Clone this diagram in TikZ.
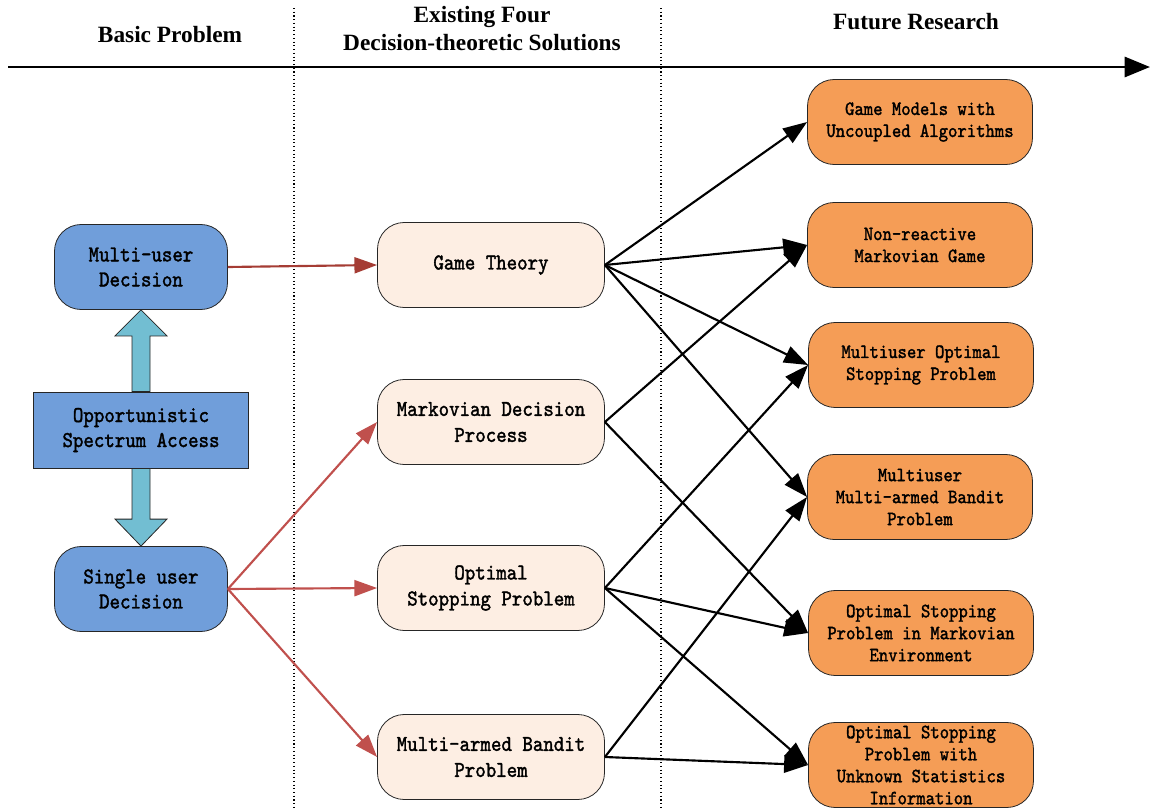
\documentclass[tikz,border=0pt]{standalone}
\usepackage{fontspec}
\usetikzlibrary{arrows.meta,calc}
\newfontfamily\boxfont[Extension=.otf,FakeStretch=0.88,FakeBold=1.6]{lmmono10-regular}
\newfontfamily\headfont{Liberation Serif}
\definecolor{bluebox}{RGB}{112,158,218}
\definecolor{cyanarr}{RGB}{114,190,210}
\definecolor{peach}{RGB}{253,238,227}
\definecolor{orangebox}{RGB}{245,157,86}
\definecolor{redarr}{RGB}{192,80,77}
\definecolor{darkred}{RGB}{165,60,52}
\begin{document}
\begin{tikzpicture}[x=0.75pt,y=-0.75pt,
  box/.style={draw=black!85, line width=0.6pt, rounded corners=20pt, align=center, inner sep=0pt},
  leftbox/.style={box, fill=bluebox, minimum width=129.75pt, minimum height=63.75pt,
    font=\boxfont\fontsize{17}{18.75}\selectfont},
  midbox/.style={box, fill=peach, minimum width=170.25pt, minimum height=63.75pt,
    font=\boxfont\fontsize{17}{19.5}\selectfont},
  rightbox/.style={box, fill=orangebox, minimum width=168.75pt, minimum height=63.75pt,
    font=\boxfont\fontsize{15.2}{16.5}\selectfont},
  headtext/.style={font=\headfont\bfseries\fontsize{17.5}{21}\selectfont, align=center, inner sep=0pt},
  redline/.style={draw=redarr, line width=1.6pt, -{Triangle[length=17pt,width=12pt]}},
  blackline/.style={draw=black, line width=1.6pt, -{Triangle[length=18pt,width=13pt]}},
  fatarrow/.style={fill=cyanarr, draw=black!85, line width=0.6pt},
  sep/.style={dotted, line width=0.8pt}
]
\useasboundingbox (0,0) rectangle (1150,810);

% headers
\node[headtext] (h1) at (170,35) {Basic Problem};
\node[headtext] (h2) at (482,29) {Existing Four\\Decision-theoretic Solutions};
\node[headtext] (h3) at (916,22) {Future Research};

% timeline
\coordinate (t0) at (8,67);
\coordinate (t1) at (1150,67);
\draw[line width=2.2pt, -{Triangle[length=19pt,width=15pt]}] (t0) -- (t1);

% separators
\coordinate (s1a) at (294,8); \coordinate (s1b) at (294,810);
\coordinate (s2a) at (661,8); \coordinate (s2b) at (661,810);
\draw[sep] (s1a) -- (s1b);
\draw[sep] (s2a) -- (s2b);

% left column
\node[leftbox] (mu) at (141,267) {Multi-user\\Decision};
\node[draw=black!85, line width=0.6pt, fill=bluebox, minimum width=161.25pt, minimum height=57pt,
  inner sep=0pt, align=center, font=\boxfont\fontsize{17}{18.75}\selectfont] (osa) at (141,430)
  {Opportunistic\\Spectrum Access};
\node[leftbox] (su) at (141,589) {Single user\\Decision};

% middle column
\node[midbox] (gt) at (491,265) {Game Theory};
\node[midbox] (mdp) at (491,422) {Markovian Decision\\Process};
\node[midbox] (osp) at (491,588) {Optimal\\Stopping Problem};
\node[midbox] (mab) at (491,757) {Multi-armed Bandit\\Problem};

% right column
\node[rightbox] (gm) at (920,122) {Game Models with\\Uncoupled Algorithms};
\node[rightbox] (nr) at (920,245) {Non-reactive\\Markovian Game};
\node[rightbox] (mosp) at (921,365) {Multiuser Optimal\\Stopping Problem};
\node[rightbox] (mmab) at (920,497) {Multiuser\\Multi-armed Bandit\\Problem};
\node[rightbox] (ospm) at (921,633) {Optimal Stopping\\Problem in Markovian\\Environment};
\node[rightbox] (ospu) at (921,765) {Optimal Stopping\\Problem with\\Unknown Statistics\\Information};

% fat double arrows
\draw[fatarrow] ($(osa.north)+(-9,0)$) -- ($(mu.south)+(-9,26)$) -- ($(mu.south)+(-26,26)$)
  -- (mu.south) -- ($(mu.south)+(26,26)$) -- ($(mu.south)+(9,26)$) -- ($(osa.north)+(9,0)$) -- cycle;
\draw[fatarrow] ($(osa.south)+(-9,0)$) -- ($(su.north)+(-9,-27)$) -- ($(su.north)+(-26,-27)$)
  -- (su.north) -- ($(su.north)+(26,-27)$) -- ($(su.north)+(9,-27)$) -- ($(osa.south)+(9,0)$) -- cycle;

% red arrows
\draw[redline, draw=darkred] (mu.east) -- (gt.west);
\draw[redline] (su.east) -- (mdp.west);
\draw[redline] (su.east) -- (osp.west);
\draw[redline] (su.east) -- (mab.west);

% black arrows
\draw[blackline] (gt.east) -- (gm.west);
\draw[blackline] (gt.east) -- (nr.west);
\draw[blackline] (gt.east) -- (mosp.west);
\draw[blackline] (gt.east) -- (mmab.west);
\draw[blackline] (mdp.east) -- (nr.west);
\draw[blackline] (mdp.east) -- (ospm.west);
\draw[blackline] (osp.east) -- (mosp.west);
\draw[blackline] (osp.east) -- (ospm.west);
\draw[blackline] (osp.east) -- (ospu.west);
\draw[blackline] (mab.east) -- (mmab.west);
\draw[blackline] (mab.east) -- (ospu.west);
\end{tikzpicture}
\end{document}
